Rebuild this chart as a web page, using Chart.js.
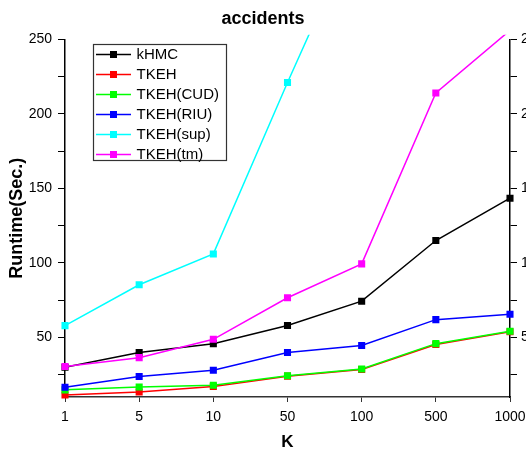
<!DOCTYPE html>
<html>
<head>
<meta charset="utf-8">
<script src="https://cdn.jsdelivr.net/npm/chart.js@4.4.1/dist/chart.umd.min.js"></script>
<style>
  html, body { margin: 0; padding: 0; background: #fff; overflow: hidden; }
  canvas { display: block; }
</style>
</head>
<body>
<canvas id="chart" width="526" height="453"></canvas>
<script>
const kLabels = ["1", "5", "10", "50", "100", "500", "1000"];
const seriesNames = ["kHMC", "TKEH", "TKEH(CUD)", "TKEH(RIU)", "TKEH(sup)", "TKEH(tm)"];
const seriesColors = ["#000000", "#ff0000", "#00ff00", "#0000ff", "#00ffff", "#ff00ff"];

// runtime in seconds
const kHMC = [30, 39.8, 45.8, 58, 74.3, 115, 143.4];
const tkeh = [11.3, 13.3, 17, 24, 28.5, 45.2, 53.8];
const tkehCUD = [14.8, 16.7, 17.9, 24.2, 28.8, 45.8, 54.1];
const tkehRIU = [16.6, 23.8, 27.9, 39.8, 44.6, 61.9, 65.5];
const tkehSup = [57.9, 85.3, 106, 221, 332, null, null]; // goes off the top after 100
const tkehTm = [30.5, 36.4, 48.7, 76.6, 99.3, 214, 256];
const seriesValues = [kHMC, tkeh, tkehCUD, tkehRIU, tkehSup, tkehTm];

const yMin = 10;
const yMax = 250;
const yStep = 25; // minor tick step, labels every 50

const fontFamily = "'Liberation Sans', Arial, sans-serif";

// boxed legend sitting inside the plot, like the original
const legendBox = {
  id: "legendBox",
  afterDraw(chart) {
    const ctx = chart.ctx;
    ctx.save();
    ctx.fillStyle = "#fff";
    ctx.fillRect(93.5, 44.5, 133, 116);
    ctx.strokeStyle = "#333";
    ctx.lineWidth = 1.2;
    ctx.strokeRect(93.5, 44.5, 133, 116);
    ctx.font = "15px " + fontFamily;
    ctx.textBaseline = "middle";
    seriesNames.forEach((name, i) => {
      const y = 54.5 + i * 20;
      ctx.strokeStyle = seriesColors[i];
      ctx.lineWidth = 1.5;
      ctx.beginPath();
      ctx.moveTo(96, y);
      ctx.lineTo(131, y);
      ctx.stroke();
      ctx.fillStyle = seriesColors[i];
      ctx.fillRect(110, y - 3.5, 7, 7);
      ctx.fillStyle = "#000";
      ctx.fillText(name, 136.5, y + 0.5);
    });
    ctx.restore();
  },
};

const keepSteps = (scale) => {
  scale.ticks = scale.ticks.filter((t) => t.value % yStep === 0);
};
const labelEvery50 = (value) => (value % 50 === 0 ? value : "");

const ctx = document.getElementById("chart").getContext("2d");
new Chart(ctx, {
  type: "line",
  data: {
    labels: kLabels,
    datasets: seriesValues.map((values, i) => ({
      label: seriesNames[i],
      data: values,
      borderColor: seriesColors[i],
      backgroundColor: seriesColors[i],
      borderWidth: 1.5,
      pointStyle: "rect",
      pointRadius: 5,
      pointBorderWidth: 0,
      pointHoverRadius: 5,
      tension: 0,
      spanGaps: false,
      order: seriesValues.length - i, // later series drawn on top
      clip: { left: 10, right: 10, top: 4.5, bottom: 10 },
    })),
  },
  plugins: [legendBox],
  options: {
    responsive: false,
    animation: false,
    layout: { padding: 0 },
    plugins: {
      legend: { display: false },
      tooltip: { enabled: false },
      title: {
        display: true,
        text: "accidents",
        color: "#000",
        font: { family: fontFamily, size: 18, weight: "bold" },
        padding: { top: 8, bottom: 9.7 },
      },
    },
    scales: {
      x: {
        type: "category",
        offset: false,
        grid: {
          drawOnChartArea: false,
          drawTicks: true,
          tickLength: 5,
          tickColor: "#333",
        },
        border: { display: true, color: "#333", width: 1.5 },
        ticks: {
          color: "#000",
          font: { family: fontFamily, size: 14 },
          padding: 7,
          maxRotation: 0,
          autoSkip: false,
        },
        title: {
          display: true,
          text: "K",
          color: "#000",
          font: { family: fontFamily, size: 17, weight: "bold" },
          padding: { top: 0, bottom: 0 },
        },
        afterFit: (scale) => {
          scale.height = 56;
          // end labels may spill over, the side axes set the plot width
          scale.paddingLeft = 0;
          scale.paddingRight = 0;
        },
      },
      y: {
        type: "linear",
        position: "left",
        min: yMin,
        max: yMax,
        afterBuildTicks: keepSteps,
        grid: {
          drawOnChartArea: false,
          drawTicks: true,
          tickLength: 7,
          tickColor: "#000",
        },
        border: { display: true, color: "#000", width: 1.5 },
        ticks: {
          stepSize: yStep,
          color: "#000",
          font: { family: fontFamily, size: 14 },
          padding: 6,
          callback: labelEvery50,
        },
        title: {
          display: true,
          text: "Runtime(Sec.)",
          color: "#000",
          font: { family: fontFamily, size: 18, weight: "bold" },
          padding: { top: 6, bottom: 0 },
        },
        afterFit: (scale) => {
          scale.width = 65;
        },
      },
      y2: {
        type: "linear",
        position: "right",
        min: yMin,
        max: yMax,
        afterBuildTicks: keepSteps,
        grid: {
          drawOnChartArea: false,
          drawTicks: true,
          tickLength: 7,
          tickColor: "#000",
        },
        border: { display: true, color: "#000", width: 1.5 },
        ticks: {
          stepSize: yStep,
          color: "#000",
          font: { family: fontFamily, size: 14 },
          padding: 4,
          callback: labelEvery50,
        },
        // narrow box so the labels run off the right edge, as in the original
        afterFit: (scale) => {
          scale.width = 16;
        },
      },
    },
  },
});
</script>
</body>
</html>
